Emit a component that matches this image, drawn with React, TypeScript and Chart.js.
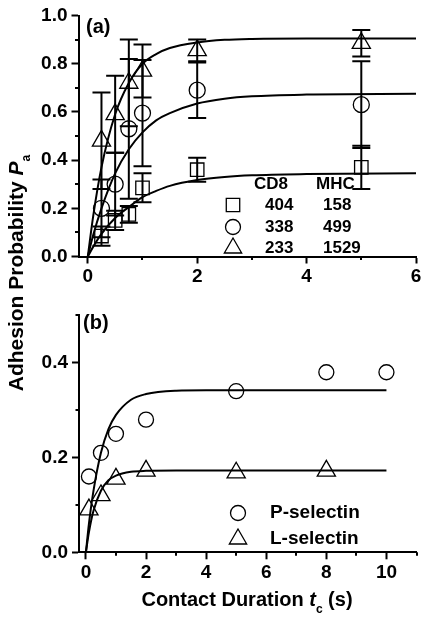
import React, { useEffect, useRef } from "react";
import { Chart, registerables } from "chart.js";

Chart.register(...registerables);

const FONT = '"Liberation Sans", Arial, Helvetica, sans-serif';

// ---------- Panel (a) ----------
const aTimes = [0.25, 0.5, 0.75, 1, 2, 5];
const aSquare = [0.085, 0.15, 0.175, 0.285, 0.36, 0.37];
const aSquareErr = [0.04, 0.04, 0.035, 0.06, 0.05, 0.09];
const aCircle = [0.2, 0.3, 0.53, 0.595, 0.69, 0.63];
const aCircleErr = [0.12, 0.13, 0.29, 0.22, 0.115, 0.18];
const aTriangle = [0.48, 0.59, 0.72, 0.77, 0.855, 0.885];
const aTriangleErr = [0.2, 0.16, 0.18, 0.11, 0.045, 0.055];

const aCurveX = [0, 0.1, 0.25, 0.5, 0.75, 1, 1.25, 1.5, 2, 2.5, 3, 4, 6];
const aFitTriangle = [0, 0.17, 0.37, 0.59, 0.72, 0.8, 0.84, 0.865, 0.888, 0.899, 0.903, 0.905, 0.905];
const aFitCircle = [0, 0.09, 0.2, 0.345, 0.445, 0.515, 0.565, 0.595, 0.635, 0.655, 0.665, 0.672, 0.675];
const aFitSquare = [0, 0.041, 0.094, 0.16, 0.205, 0.246, 0.272, 0.293, 0.317, 0.33, 0.337, 0.342, 0.345];

const aXMajor = [0, 2, 4, 6];
const aXMinor = [1, 3, 5];
const aYMajor = [0, 0.2, 0.4, 0.6, 0.8, 1.0];
const aYMinor = [0.1, 0.3, 0.5, 0.7, 0.9];

const aLegendHeader = ["CD8", "MHC"];
const aLegendStyles = ["rect", "circle", "triangle"];
const aLegendCD8 = ["404", "338", "233"];
const aLegendMHC = ["158", "499", "1529"];

// ---------- Panel (b) ----------
const bPTimes = [0.1, 0.5, 1, 2, 5, 8, 10];
const bPSelectin = [0.16, 0.21, 0.25, 0.28, 0.34, 0.38, 0.38];
const bLTimes = [0.1, 0.5, 1, 2, 5, 8];
const bLSelectin = [0.09, 0.12, 0.155, 0.172, 0.168, 0.172];

const bCurveX = [0, 0.1, 0.25, 0.5, 0.75, 1, 1.5, 2, 3, 4, 10];
const bFitP = [0, 0.06, 0.129, 0.21, 0.26, 0.29, 0.322, 0.334, 0.341, 0.342, 0.342];
const bFitL = [0, 0.042, 0.087, 0.13, 0.152, 0.162, 0.17, 0.172, 0.1727, 0.1727, 0.1727];

const bXMajor = [0, 2, 4, 6, 8, 10];
const bXMinor = [1, 3, 5, 7, 9, 11];
const bYMajor = [0, 0.2, 0.4];
const bYMinor = [0.1, 0.3, 0.5];

const bLegendLabels = ["P-selectin", "L-selectin"];
const bLegendStyles = ["circle", "triangle"];

const toXY = (xs: number[], ys: number[]) => xs.map((x, i) => ({ x, y: ys[i] }));

function drawMarker(ctx: CanvasRenderingContext2D, style: string, x: number, y: number, r: number) {
  ctx.beginPath();
  if (style === "rect") {
    const s = Math.SQRT1_2 * r;
    ctx.rect(x - s, y - s, 2 * s, 2 * s);
  } else if (style === "circle") {
    ctx.arc(x, y, r, 0, Math.PI * 2);
  } else {
    let rad = 0;
    ctx.moveTo(x + Math.sin(rad) * r, y - Math.cos(rad) * r);
    rad += (2 * Math.PI) / 3;
    ctx.lineTo(x + Math.sin(rad) * r, y - Math.cos(rad) * r);
    rad += (2 * Math.PI) / 3;
    ctx.lineTo(x + Math.sin(rad) * r, y - Math.cos(rad) * r);
    ctx.closePath();
  }
  ctx.stroke();
}

const minorTicks = (xs: number[], ys: number[], len: number) => ({
  id: "minorTicks",
  afterDraw(chart: any) {
    const { ctx, chartArea } = chart;
    const x = chart.scales.x;
    const y = chart.scales.y;
    ctx.save();
    ctx.strokeStyle = "#000";
    ctx.lineWidth = 2;
    xs.forEach((v) => {
      const px = Math.round(x.getPixelForValue(v));
      ctx.beginPath();
      ctx.moveTo(px, chartArea.bottom);
      ctx.lineTo(px, chartArea.bottom + len);
      ctx.stroke();
    });
    ys.forEach((v) => {
      const py = Math.round(y.getPixelForValue(v));
      ctx.beginPath();
      ctx.moveTo(chartArea.left, py);
      ctx.lineTo(chartArea.left - len, py);
      ctx.stroke();
    });
    ctx.restore();
  },
});

const errorBars = {
  id: "errorBars",
  afterDatasetsDraw(chart: any) {
    const { ctx } = chart;
    const x = chart.scales.x;
    const y = chart.scales.y;
    ctx.save();
    ctx.strokeStyle = "#000";
    ctx.lineWidth = 2;
    chart.data.datasets.forEach((ds: any) => {
      if (!ds.errors) return;
      ds.data.forEach((p: any, j: number) => {
        const e = ds.errors[j];
        const px = x.getPixelForValue(p.x);
        const top = y.getPixelForValue(p.y + e);
        const bot = y.getPixelForValue(p.y - e);
        ctx.beginPath();
        ctx.moveTo(px, top);
        ctx.lineTo(px, bot);
        ctx.moveTo(px - 9, top);
        ctx.lineTo(px + 9, top);
        ctx.moveTo(px - 9, bot);
        ctx.lineTo(px + 9, bot);
        ctx.stroke();
      });
    });
    ctx.restore();
  },
};

const legendA = {
  id: "legendA",
  afterDraw(chart: any) {
    const ctx = chart.ctx;
    ctx.save();
    ctx.fillStyle = "#000";
    ctx.strokeStyle = "#000";
    ctx.textBaseline = "middle";
    ctx.textAlign = "left";
    ctx.font = `bold 20px ${FONT}`;
    ctx.fillText("(a)", 86, 27);
    ctx.font = `bold 17px ${FONT}`;
    ctx.fillText(aLegendHeader[0], 254, 184);
    ctx.fillText(aLegendHeader[1], 316, 184);
    const rows = [205, 227, 248];
    const radii: any = { rect: 9.5, circle: 7.5, triangle: 10 };
    ctx.lineWidth = 1.3;
    aLegendStyles.forEach((st, i) => {
      drawMarker(ctx, st, 233, rows[i], radii[st]);
      ctx.fillText(aLegendCD8[i], 265, rows[i]);
      ctx.fillText(aLegendMHC[i], 323, rows[i]);
    });
    ctx.restore();
  },
};

const legendB = {
  id: "legendB",
  afterDraw(chart: any) {
    const ctx = chart.ctx;
    ctx.save();
    ctx.fillStyle = "#000";
    ctx.strokeStyle = "#000";
    ctx.textBaseline = "middle";
    ctx.textAlign = "left";
    ctx.font = `bold 20px ${FONT}`;
    ctx.fillText("(b)", 83, 23);
    ctx.font = `bold 19px ${FONT}`;
    ctx.lineWidth = 1.3;
    const rows = [213, 239];
    const radii: any = { circle: 7.5, triangle: 10 };
    bLegendStyles.forEach((st, i) => {
      drawMarker(ctx, st, 238, rows[i], radii[st]);
      ctx.fillText(bLegendLabels[i], 270, rows[i]);
    });
    // x-axis title: Contact Duration t_c (s)
    const main = `bold 20px ${FONT}`;
    const ital = `italic bold 20px ${FONT}`;
    const sub = `bold 12px ${FONT}`;
    const p1 = "Contact Duration ";
    const p2 = "t";
    const p3 = "c";
    const p4 = " (s)";
    ctx.font = main;
    const w1 = ctx.measureText(p1).width;
    const w4 = ctx.measureText(p4).width;
    ctx.font = ital;
    const w2 = ctx.measureText(p2).width;
    ctx.font = sub;
    const w3 = ctx.measureText(p3).width;
    const total = w1 + w2 + w3 + w4;
    let xx = 247 - total / 2;
    const yy = 300;
    ctx.font = main;
    ctx.fillText(p1, xx, yy);
    xx += w1;
    ctx.font = ital;
    ctx.fillText(p2, xx, yy);
    xx += w2;
    ctx.font = sub;
    ctx.fillText(p3, xx, yy + 10);
    xx += w3;
    ctx.font = main;
    ctx.fillText(p4, xx, yy);
    ctx.restore();
  },
};

const tickFont = { family: FONT, size: 19, weight: "bold" as const };

function axisX(min: number, max: number, major: number[], height: number) {
  return {
    type: "linear" as const,
    min,
    max,
    afterBuildTicks: (s: any) => {
      s.ticks = major.map((v) => ({ value: v }));
    },
    afterFit: (s: any) => {
      s.height = height;
    },
    ticks: {
      autoSkip: false,
      maxRotation: 0,
      color: "#000",
      font: tickFont,
      padding: 2,
      callback: (v: any) => String(v),
    },
    grid: { drawOnChartArea: false, drawTicks: true, tickLength: 7, tickWidth: 2, tickColor: "#000" },
    border: { display: true, color: "#000", width: 2 },
  };
}

function axisY(min: number, max: number, major: number[], width: number) {
  return {
    type: "linear" as const,
    min,
    max,
    afterBuildTicks: (s: any) => {
      s.ticks = major.map((v) => ({ value: v }));
    },
    afterFit: (s: any) => {
      s.width = width;
    },
    ticks: {
      autoSkip: false,
      color: "#000",
      font: tickFont,
      padding: 4,
      callback: (v: any) => Number(v).toFixed(1),
    },
    grid: { drawOnChartArea: false, drawTicks: true, tickLength: 7, tickWidth: 2, tickColor: "#000" },
    border: { display: true, color: "#000", width: 2 },
  };
}

const curve = (xs: number[], ys: number[]) => ({
  data: toXY(xs, ys),
  borderColor: "#000",
  borderWidth: 2,
  pointRadius: 0,
  fill: false,
  cubicInterpolationMode: "monotone" as const,
  showLine: true,
});

const markers = (xs: number[], ys: number[], style: string, r: number, errors?: number[]) => ({
  data: toXY(xs, ys),
  errors,
  showLine: false,
  pointStyle: style,
  pointRadius: r,
  pointBorderColor: "#000",
  pointBackgroundColor: "rgba(0,0,0,0)",
  pointBorderWidth: 1.3,
  borderColor: "#000",
  backgroundColor: "rgba(0,0,0,0)",
  clip: false,
});

export default function App() {
  const refA = useRef<HTMLCanvasElement>(null);
  const refB = useRef<HTMLCanvasElement>(null);

  useEffect(() => {
    const chartA = new Chart(refA.current as HTMLCanvasElement, {
      type: "line",
      data: {
        datasets: [
          curve(aCurveX, aFitTriangle),
          curve(aCurveX, aFitCircle),
          curve(aCurveX, aFitSquare),
          markers(aTimes, aSquare, "rect", 9.5, aSquareErr),
          markers(aTimes, aCircle, "circle", 8, aCircleErr),
          markers(aTimes, aTriangle, "triangle", 10.5, aTriangleErr),
        ] as any,
      },
      options: {
        responsive: false,
        animation: false,
        devicePixelRatio: 1,
        layout: { padding: { left: 0, right: 21, top: 15.5, bottom: 0 } },
        plugins: { legend: { display: false }, tooltip: { enabled: false } },
        scales: {
          x: axisX(-0.17, 6, aXMajor, 43.5),
          y: axisY(0, 1, aYMajor, 78.5),
        } as any,
      },
      plugins: [minorTicks(aXMinor, aYMinor, 3.5), errorBars, legendA],
    });

    const chartB = new Chart(refB.current as HTMLCanvasElement, {
      type: "line",
      data: {
        datasets: [
          curve(bCurveX, bFitP),
          curve(bCurveX, bFitL),
          markers(bPTimes, bPSelectin, "circle", 7.5),
          markers(bLTimes, bLSelectin, "triangle", 10.5),
        ] as any,
      },
      options: {
        responsive: false,
        animation: false,
        devicePixelRatio: 1,
        layout: { padding: { left: 0, right: 20.5, top: 11.7, bottom: 0 } },
        plugins: { legend: { display: false }, tooltip: { enabled: false } },
        scales: {
          x: axisX(-0.23, 11, bXMajor, 68.7),
          y: axisY(0, 0.5, bYMajor, 79),
        } as any,
      },
      plugins: [minorTicks(bXMinor, bYMinor, 3.5), legendB],
    });

    return () => {
      chartA.destroy();
      chartB.destroy();
    };
  }, []);

  return (
    <div style={{ position: "absolute", left: 0, top: 0, width: 437, height: 621, background: "#fff" }}>
      <canvas ref={refA} width={437} height={300} style={{ position: "absolute", left: 0, top: 0 }} />
      <canvas ref={refB} width={437} height={321} style={{ position: "absolute", left: 0, top: 300 }} />
      <div
        style={{
          position: "absolute",
          left: 16 - 160,
          top: 273 - 12,
          width: 320,
          height: 24,
          lineHeight: "24px",
          textAlign: "center",
          transform: "rotate(-90deg)",
          fontFamily: FONT,
          fontWeight: "bold",
          fontSize: 21,
          color: "#000",
          whiteSpace: "nowrap",
        }}
      >
        Adhesion Probability <i>P</i>
        <span style={{ fontSize: 12, position: "relative", top: 7 }}>a</span>
      </div>
    </div>
  );
}
